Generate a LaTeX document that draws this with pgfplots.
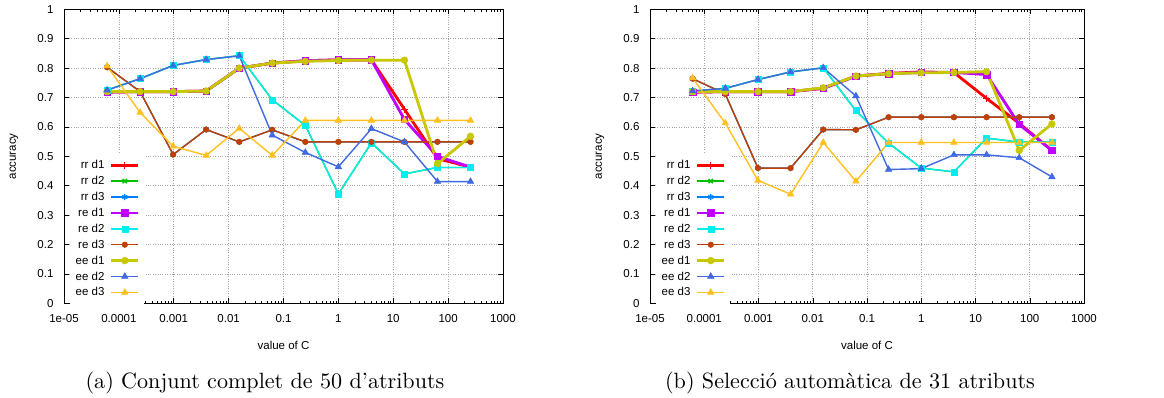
\documentclass[border=0pt]{standalone}
\usepackage{fontspec}
\newfontfamily\hv{Liberation Sans}
\usepackage{pgfplots}
\usepackage{pgfplotstable}
\pgfplotsset{compat=1.18}

\definecolor{gpred}{HTML}{FF0000}
\definecolor{gpgreen}{HTML}{00C000}
\definecolor{gpblue}{HTML}{0080FF}
\definecolor{gppurple}{HTML}{C000FF}
\definecolor{gpcyan}{HTML}{00EEEE}
\definecolor{gpbrown}{HTML}{C04000}
\definecolor{gpolive}{HTML}{C8C800}
\definecolor{gproyal}{HTML}{4169E1}
\definecolor{gpgold}{HTML}{FFC020}

% (a) full set of 50 attributes
\pgfplotstableread{
x rr1 rr2 rr3 re1 re2 re3 ee1 ee2 ee3
6.103515625e-05 0.718 0.725 0.803 0.718 0.725 0.803 0.720 0.725 0.807
2.44140625e-04  0.720 0.764 0.720 0.720 0.764 0.720 0.720 0.764 0.649
9.765625e-04    0.720 0.809 0.506 0.720 0.809 0.506 0.720 0.809 0.534
3.90625e-03     0.722 0.829 0.591 0.722 0.829 0.591 0.722 0.829 0.503
1.5625e-02      0.800 0.842 0.549 0.800 0.842 0.549 0.800 0.842 0.595
6.25e-02        0.817 0.692 0.590 0.817 0.692 0.590 0.817 0.572 0.503
0.25            0.825 0.605 0.549 0.825 0.605 0.549 0.823 0.513 0.622
1               0.828 0.372 0.549 0.828 0.372 0.549 0.826 0.464 0.622
4               0.828 0.546 0.549 0.828 0.546 0.549 0.827 0.594 0.622
16              0.660 0.440 0.549 0.625 0.440 0.549 0.827 0.549 0.622
64              0.492 0.462 0.549 0.500 0.462 0.549 0.475 0.414 0.622
256             0.463 0.462 0.549 0.463 0.462 0.549 0.568 0.414 0.622
}\tabA

% (b) automatic selection of 31 attributes
\pgfplotstableread{
x rr1 rr2 rr3 re1 re2 re3 ee1 ee2 ee3
6.103515625e-05 0.718 0.722 0.764 0.718 0.722 0.764 0.720 0.722 0.766
2.44140625e-04  0.720 0.731 0.712 0.720 0.731 0.712 0.720 0.731 0.613
9.765625e-04    0.720 0.761 0.460 0.720 0.761 0.460 0.720 0.761 0.418
3.90625e-03     0.720 0.787 0.460 0.720 0.787 0.460 0.720 0.787 0.371
1.5625e-02      0.731 0.801 0.591 0.731 0.801 0.591 0.733 0.801 0.547
6.25e-02        0.773 0.655 0.590 0.773 0.655 0.590 0.773 0.705 0.415
0.25            0.782 0.545 0.633 0.781 0.545 0.633 0.781 0.455 0.547
1               0.787 0.460 0.633 0.785 0.460 0.633 0.784 0.458 0.547
4               0.785 0.447 0.633 0.785 0.447 0.633 0.785 0.505 0.547
16              0.697 0.562 0.633 0.778 0.562 0.633 0.788 0.505 0.547
64              0.612 0.548 0.633 0.608 0.548 0.633 0.520 0.495 0.547
256             0.520 0.548 0.633 0.520 0.548 0.633 0.610 0.430 0.547
}\tabB

\pgfplotsset{legend image code/.code={\draw[mark repeat=2,mark phase=2,#1] plot coordinates {(0pt,0pt) (13.5pt,0pt) (27pt,0pt)};}}

\pgfplotsset{
  gpaxis/.style={
    scale only axis, height=294pt,
    xmin=1e-5, xmax=1000, ymin=0, ymax=1,
    xtick={1e-5,1e-4,1e-3,1e-2,1e-1,1,10,100,1000},
    xticklabels={1e-05,0.0001,0.001,0.01,0.1,1,10,100,1000},
    minor xtick={2e-5,3e-5,4e-5,5e-5,6e-5,7e-5,8e-5,9e-5,
                 2e-4,3e-4,4e-4,5e-4,6e-4,7e-4,8e-4,9e-4,
                 2e-3,3e-3,4e-3,5e-3,6e-3,7e-3,8e-3,9e-3,
                 2e-2,3e-2,4e-2,5e-2,6e-2,7e-2,8e-2,9e-2,
                 0.2,0.3,0.4,0.5,0.6,0.7,0.8,0.9,
                 2,3,4,5,6,7,8,9,20,30,40,50,60,70,80,90,
                 200,300,400,500,600,700,800,900},
    ytick={0,0.1,0.2,0.3,0.4,0.5,0.6,0.7,0.8,0.9,1},
    yticklabels={0,0.1,0.2,0.3,0.4,0.5,0.6,0.7,0.8,0.9,1},
    xmajorgrids, ymajorgrids,
    major grid style={dotted, black!35, line width=0.6pt},
    axis line style={line width=0.7pt},
    tick align=inside,
    major tick length=5pt, minor tick length=2.5pt,
    every tick/.style={black, line width=0.5pt},
    tick label style={font=\hv\fontsize{11.5}{13}\selectfont},
    xticklabel style={yshift=-8pt},
    yticklabel style={xshift=-7pt},
    xlabel={value of C}, ylabel={accuracy},
    every axis x label/.style={at={(rel axis cs:0.5,0)}, anchor=center, yshift=-42pt,
      font=\hv\fontsize{11.5}{13}\selectfont},
    every axis y label/.style={at={(rel axis cs:0,0.5)}, xshift=-50pt, rotate=90, anchor=center,
      font=\hv\fontsize{11.5}{13}\selectfont},
    legend plot pos=right,
    legend cell align=right,
    legend style={draw=none, fill=white, inner sep=4pt, anchor=north east,
      font=\hv\fontsize{11.5}{13}\selectfont, column sep=4pt, row sep=0pt,
      nodes={inner sep=1.45pt, text height=10pt, text depth=3pt}},
    every axis plot/.append style={line width=1.4pt, mark options={solid}},
  }
}

\newcommand\gpplots[1]{%
  \addplot[gpred, line width=2.8pt, mark=+, mark size=3.5pt, mark options={line width=1.4pt}] table[x=x,y=rr1]{#1};
  \addplot[gpgreen, mark=x, mark size=3pt] table[x=x,y=rr2]{#1};
  \addplot[gpblue, mark=asterisk, mark size=3pt] table[x=x,y=rr3]{#1};
  \addplot[gppurple, line width=2.8pt, mark=square*, mark size=3.2pt, mark options={line width=0.5pt}] table[x=x,y=re1]{#1};
  \addplot[gpcyan, mark=square*, mark size=3pt, mark options={line width=0.5pt}] table[x=x,y=re2]{#1};
  \addplot[gpbrown, mark=*, mark size=2.8pt, mark options={line width=0.5pt}] table[x=x,y=re3]{#1};
  \addplot[gpolive, line width=2.8pt, mark=*, mark size=3.4pt, mark options={line width=0.5pt}] table[x=x,y=ee1]{#1};
  \addplot[gproyal, mark=triangle*, mark size=3.8pt, mark options={line width=0.5pt}] table[x=x,y=ee2]{#1};
  \addplot[gpgold, mark=triangle*, mark size=3.8pt, mark options={line width=0.5pt}] table[x=x,y=ee3]{#1};
  \legend{rr d1,rr d2,rr d3,re d1,re d2,re d3,ee d1,ee d2,ee d3}
}

\begin{document}
\begin{tikzpicture}
\path[use as bounding box] (0pt,0pt) rectangle (1164pt,398pt);
\begin{axis}[xmode=log, gpaxis, width=439pt, at={(64pt,94.7pt)}, anchor=south west,
  legend style={at={(axis description cs:0.182,0.511)}}]
\gpplots{\tabA}
\end{axis}
\begin{axis}[xmode=log, gpaxis, width=434pt, at={(650pt,94.7pt)}, anchor=south west,
  legend style={at={(axis description cs:0.184,0.511)}}]
\gpplots{\tabB}
\end{axis}
\node[font=\fontsize{10}{12}\selectfont, scale=2.21, inner sep=0pt] at (265pt,15pt) {(a) Conjunt complet de 50 d'atributs};
\node[font=\fontsize{10}{12}\selectfont, scale=2.21, inner sep=0pt] at (850pt,15pt) {(b) Selecció automàtica de 31 atributs};
\end{tikzpicture}
\end{document}
